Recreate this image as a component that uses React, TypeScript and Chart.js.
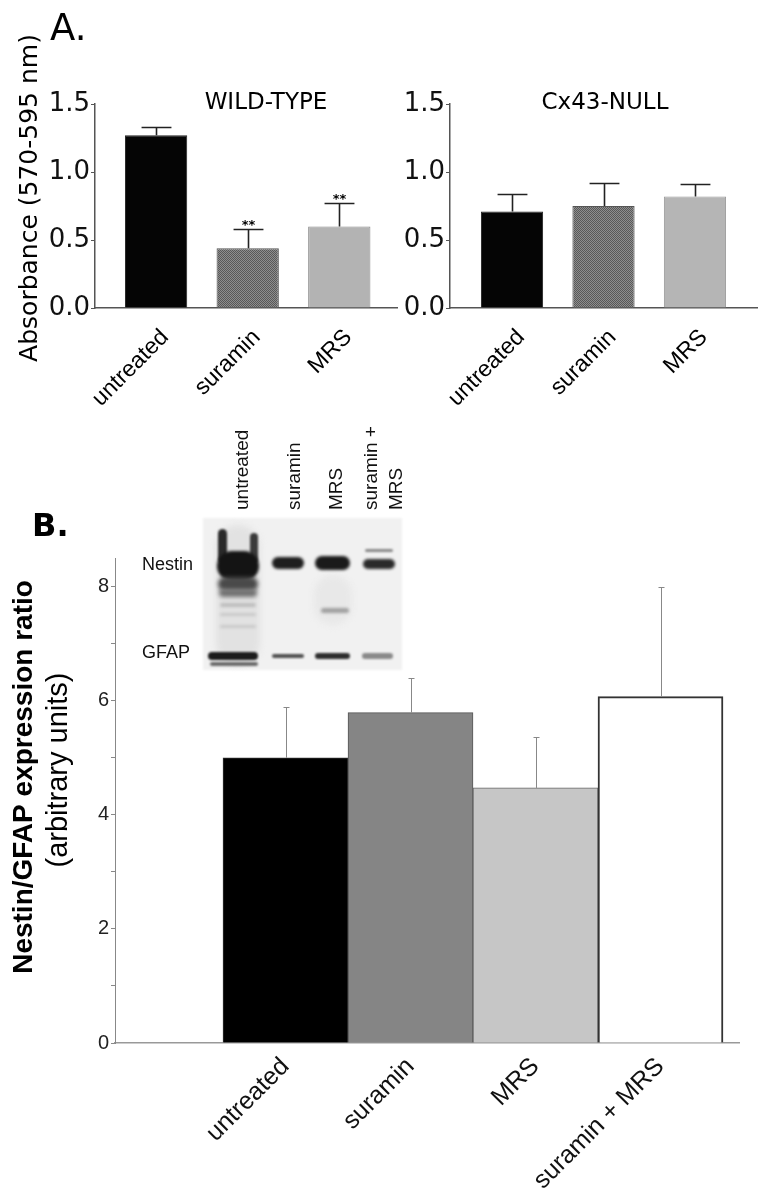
import React, { useEffect, useRef } from 'react';
import { Chart, registerables } from 'chart.js';

Chart.register(...registerables);

// ---------------- Panel A data ----------------
const categoriesA = ['untreated', 'suramin', 'MRS'];
const wildTypeMeans = [1.27, 0.44, 0.6];
const wildTypeErrors = [0.06, 0.14, 0.17];
const wildTypeMarks = ['', '**', '**'];
const cx43NullMeans = [0.71, 0.75, 0.82];
const cx43NullErrors = [0.13, 0.17, 0.09];
const cx43NullMarks = ['', '', ''];
const absorbanceRange = [0, 1.5];
const absorbanceStep = 0.25;

// ---------------- Panel B data ----------------
const categoriesB = ['untreated', 'suramin', 'MRS', 'suramin + MRS'];
const ratioMeans = [5.0, 5.79, 4.47, 6.07];
const ratioErrors = [0.89, 0.61, 0.9, 1.93];
const ratioRange = [0, 8.5];
const ratioStep = 1;
const blotLanes = ['untreated', 'suramin', 'MRS', 'suramin +\nMRS'];
const blotBands = ['Nestin', 'GFAP'];

type TextItem = {
  text: string;
  x: number;
  y: number;
  font: string;
  color?: string;
  align?: CanvasTextAlign;
  rotate?: boolean;
};

function textPlugin(items: TextItem[]) {
  return {
    id: 'extraText',
    afterDraw(chart: any) {
      const ctx = chart.ctx as CanvasRenderingContext2D;
      for (const t of items) {
        ctx.save();
        ctx.font = t.font;
        ctx.fillStyle = t.color || '#000';
        ctx.textAlign = t.align || 'left';
        ctx.textBaseline = 'alphabetic';
        ctx.translate(t.x, t.y);
        if (t.rotate) ctx.rotate(-Math.PI / 2);
        ctx.fillText(t.text, 0, 0);
        ctx.restore();
      }
    },
  };
}

function errorBarPlugin(
  means: number[],
  errors: number[],
  style: { color: string; width: number; capFrac?: number; capPx?: number },
  marks?: string[]
) {
  return {
    id: 'errorBars',
    afterDatasetsDraw(chart: any) {
      const ctx = chart.ctx as CanvasRenderingContext2D;
      const yScale = chart.scales.y;
      const meta = chart.getDatasetMeta(0);
      meta.data.forEach((el: any, i: number) => {
        const x = Math.round(el.x) + 0.5;
        const base = yScale.getPixelForValue(means[i]);
        const top = Math.round(yScale.getPixelForValue(means[i] + errors[i])) + 0.5;
        const half = style.capPx != null ? style.capPx / 2 : (el.width * (style.capFrac || 0.5)) / 2;
        ctx.save();
        ctx.strokeStyle = style.color;
        ctx.lineWidth = style.width;
        ctx.beginPath();
        ctx.moveTo(x, base);
        ctx.lineTo(x, top);
        ctx.moveTo(x - half, top);
        ctx.lineTo(x + half, top);
        ctx.stroke();
        if (marks && marks[i]) {
          ctx.fillStyle = '#000';
          ctx.font = 'bold 13px "DejaVu Sans"';
          ctx.textAlign = 'center';
          ctx.textBaseline = 'alphabetic';
          ctx.fillText(marks[i], x, top - 1);
        }
        ctx.restore();
      });
    },
  };
}

function dotPattern(base: string, dot: string): CanvasPattern | string {
  const c = document.createElement('canvas');
  c.width = 2;
  c.height = 2;
  const g = c.getContext('2d');
  if (!g) return base;
  g.fillStyle = base;
  g.fillRect(0, 0, 2, 2);
  g.fillStyle = dot;
  g.fillRect(0, 0, 1, 1);
  g.fillRect(1, 1, 1, 1);
  return g.createPattern(c, 'repeat') || base;
}

function panelAConfig(p: {
  means: number[];
  errors: number[];
  marks: string[];
  colors: any[];
  borders: string[];
  yWidth: number;
  padRight: number;
  xMin: number;
  xMax: number;
  texts: TextItem[];
}): any {
  return {
    type: 'bar',
    data: {
      datasets: [
        {
          data: p.means.map((v, i) => ({ x: i, y: v })),
          backgroundColor: p.colors,
          borderColor: p.borders,
          borderWidth: 1,
          barPercentage: 0.68,
          categoryPercentage: 1,
        },
      ],
    },
    options: {
      responsive: false,
      animation: false,
      devicePixelRatio: 1,
      layout: { padding: { top: 104, left: 0, right: p.padRight, bottom: 0 } },
      plugins: { legend: { display: false }, tooltip: { enabled: false }, title: { display: false } },
      scales: {
        x: {
          type: 'linear',
          min: p.xMin,
          max: p.xMax,
          offset: false,
          afterBuildTicks: (s: any) => {
            s.ticks = categoriesA.map((_, i) => ({ value: i }));
          },
          afterFit: (s: any) => {
            s.height = 112;
          },
          grid: { display: false, offset: false },
          border: { display: true, color: '#555', width: 1.5 },
          ticks: {
            autoSkip: false,
            minRotation: 45,
            maxRotation: 45,
            padding: 8,
            labelOffset: 9,
            color: '#000',
            font: { family: '"Liberation Sans", Arial', size: 23 },
            callback: (v: any) => categoriesA[Math.round(v)] ?? '',
          },
        },
        y: {
          min: absorbanceRange[0],
          max: absorbanceRange[1],
          afterFit: (s: any) => {
            s.width = p.yWidth;
          },
          grid: { drawOnChartArea: false, tickLength: 4, color: '#555', tickWidth: 1 },
          border: { display: true, color: '#555', width: 1.5 },
          ticks: {
            stepSize: absorbanceStep,
            includeBounds: false,
            padding: 1,
            color: '#111',
            font: { family: '"DejaVu Sans"', size: 26 },
            callback: (v: any) => {
              const n = Number(v);
              return Math.abs(n * 2 - Math.round(n * 2)) < 1e-6 ? n.toFixed(1) : '';
            },
          },
        },
      },
    },
    plugins: [
      errorBarPlugin(p.means, p.errors, { color: '#222', width: 1.6, capFrac: 0.48 }, p.marks),
      textPlugin(p.texts),
    ],
  };
}

function panelBConfig(texts: TextItem[]): any {
  return {
    type: 'bar',
    data: {
      datasets: [
        {
          data: ratioMeans.map((v, i) => ({ x: i, y: v })),
          backgroundColor: ['#000000', '#858585', '#c6c6c6', '#ffffff'],
          borderColor: ['#333333', '#555555', '#666666', '#333333'],
          borderWidth: [1, 1, 1, 2],
          barPercentage: 1,
          categoryPercentage: 1,
        },
      ],
    },
    options: {
      responsive: false,
      animation: false,
      devicePixelRatio: 1,
      layout: { padding: { top: 138, left: 0, right: 28, bottom: 0 } },
      plugins: { legend: { display: false }, tooltip: { enabled: false }, title: { display: false } },
      scales: {
        x: {
          type: 'linear',
          min: -1.364,
          max: 3.628,
          offset: false,
          afterBuildTicks: (s: any) => {
            s.ticks = categoriesB.map((_, i) => ({ value: i }));
          },
          afterFit: (s: any) => {
            s.height = 156;
          },
          grid: { display: false, offset: false },
          border: { display: true, color: '#999', width: 1.5 },
          ticks: {
            autoSkip: false,
            minRotation: 45,
            maxRotation: 45,
            padding: 1,
            color: '#111',
            font: { family: '"Liberation Sans", Arial', size: 25 },
            callback: (v: any) => categoriesB[Math.round(v)] ?? '',
          },
        },
        y: {
          min: ratioRange[0],
          max: ratioRange[1],
          afterFit: (s: any) => {
            s.width = 115;
          },
          grid: { drawOnChartArea: false, tickLength: 4, color: '#888', tickWidth: 1 },
          border: { display: true, color: '#888', width: 1 },
          ticks: {
            stepSize: ratioStep,
            includeBounds: false,
            padding: 2,
            color: '#222',
            font: { family: '"Liberation Sans", Arial', size: 20 },
            callback: (v: any) => (Number(v) % 2 === 0 ? String(v) : ''),
          },
        },
      },
    },
    plugins: [
      errorBarPlugin(ratioMeans, ratioErrors, { color: '#888', width: 1, capPx: 6 }),
      textPlugin(texts),
    ],
  };
}

function drawBlot(c: HTMLCanvasElement) {
  const g = c.getContext('2d');
  if (!g) return;
  g.clearRect(0, 0, c.width, c.height);
  g.save();
  g.filter = 'blur(1px)';
  g.fillStyle = '#f1f1f1';
  g.fillRect(3, 3, 199, 152);
  g.restore();
  const band = (x: number, y: number, w: number, h: number, color: string, blur: number) => {
    g.save();
    g.filter = `blur(${blur}px)`;
    g.fillStyle = color;
    g.beginPath();
    const r = Math.min(h / 2, w / 2);
    if ((g as any).roundRect) (g as any).roundRect(x, y, w, h, r);
    else g.rect(x, y, w, h);
    g.fill();
    g.restore();
  };
  // lane haze
  band(16, 10, 44, 140, '#e2e2e2', 3);
  band(114, 60, 38, 50, '#e8e8e8', 3);
  // untreated nestin smear
  band(18, 14, 9, 34, '#2a2a2a', 1.2);
  band(50, 18, 8, 30, '#3a3a3a', 1.2);
  band(17, 36, 42, 30, '#141414', 1.5);
  band(18, 62, 40, 14, '#4a4a4a', 2);
  band(19, 74, 38, 8, '#707070', 2);
  band(20, 88, 36, 4, '#bdbdbd', 1.5);
  band(20, 98, 36, 3, '#c8c8c8', 1.5);
  band(20, 110, 36, 3, '#c8c8c8', 1.5);
  // other nestin bands
  band(72, 42, 32, 12, '#1e1e1e', 1.5);
  band(115, 41, 35, 14, '#1a1a1a', 1.5);
  band(163, 44, 32, 10, '#2a2a2a', 1.5);
  band(165, 34, 28, 3, '#8a8a8a', 1);
  band(121, 93, 28, 5, '#a0a0a0', 1.5);
  // GFAP bands
  band(8, 137, 50, 8, '#1c1c1c', 1.2);
  band(10, 147, 48, 4, '#6a6a6a', 1.2);
  band(72, 139, 32, 4, '#505050', 1);
  band(115, 138, 35, 6, '#2e2e2e', 1.2);
  band(162, 138, 31, 6, '#8a8a8a', 1.2);
}

export default function App() {
  const aLeftRef = useRef<HTMLCanvasElement>(null);
  const aRightRef = useRef<HTMLCanvasElement>(null);
  const bRef = useRef<HTMLCanvasElement>(null);
  const blotRef = useRef<HTMLCanvasElement>(null);

  useEffect(() => {
    document.body.style.margin = '0';
    document.documentElement.style.overflow = 'hidden';
    const suraminFill = dotPattern('#8e8e8e', '#585858');
    const charts: Chart[] = [];

    if (aLeftRef.current) {
      charts.push(
        new Chart(
          aLeftRef.current,
          panelAConfig({
            means: wildTypeMeans,
            errors: wildTypeErrors,
            marks: wildTypeMarks,
            colors: ['#050505', suraminFill, '#b3b3b3'],
            borders: ['#222222', '#555555', '#888888'],
            yWidth: 95,
            padRight: 3,
            xMin: -0.667,
            xMax: 2.63,
            texts: [
              { text: 'A.', x: 50, y: 40, font: '37px "DejaVu Sans"' },
              { text: 'WILD-TYPE', x: 266, y: 109, font: '23px "DejaVu Sans"', align: 'center' },
              {
                text: 'Absorbance (570-595 nm)',
                x: 37,
                y: 198,
                font: '25px "DejaVu Sans"',
                align: 'center',
                rotate: true,
              },
            ],
          })
        )
      );
    }
    if (aRightRef.current) {
      charts.push(
        new Chart(
          aRightRef.current,
          panelAConfig({
            means: cx43NullMeans,
            errors: cx43NullErrors,
            marks: cx43NullMarks,
            colors: ['#050505', suraminFill, '#b5b5b5'],
            borders: ['#222222', '#555555', '#999999'],
            yWidth: 50,
            padRight: 10,
            xMin: -0.678,
            xMax: 2.678,
            texts: [{ text: 'Cx43-NULL', x: 205, y: 109, font: '23px "DejaVu Sans"', align: 'center' }],
          })
        )
      );
    }
    if (bRef.current) {
      const laneFont = '19px "Liberation Sans", Arial';
      const laneX = [248, 300, 342, 377];
      const laneTexts: TextItem[] = [];
      blotLanes.forEach((lane, i) => {
        const lines = lane.split('\n');
        lines.forEach((line, j) => {
          laneTexts.push({ text: line, x: laneX[i] + j * 25, y: 90, font: laneFont, rotate: true, color: '#111' });
        });
      });
      charts.push(
        new Chart(
          bRef.current,
          panelBConfig([
            { text: 'B.', x: 32, y: 116, font: 'bold 32px "DejaVu Sans"' },
            {
              text: 'Nestin/GFAP expression ratio',
              x: 32,
              y: 357,
              font: 'bold 28px "Liberation Sans", Arial',
              align: 'center',
              rotate: true,
            },
            {
              text: '(arbitrary units)',
              x: 67,
              y: 350,
              font: '29px "Liberation Sans", Arial',
              align: 'center',
              rotate: true,
            },
            { text: blotBands[0], x: 142, y: 150, font: '18px "Liberation Sans", Arial', color: '#111' },
            { text: blotBands[1], x: 142, y: 238, font: '18px "Liberation Sans", Arial', color: '#111' },
            ...laneTexts,
          ])
        )
      );
    }
    if (blotRef.current) drawBlot(blotRef.current);

    return () => {
      charts.forEach((c) => c.destroy());
    };
  }, []);

  return (
    <div style={{ position: 'relative', width: 767, height: 1199, overflow: 'hidden', background: '#fff' }}>
      <canvas ref={aLeftRef} width={400} height={420} style={{ position: 'absolute', left: 0, top: 0 }} />
      <canvas ref={aRightRef} width={367} height={420} style={{ position: 'absolute', left: 400, top: 0 }} />
      <canvas ref={bRef} width={767} height={779} style={{ position: 'absolute', left: 0, top: 420 }} />
      <canvas ref={blotRef} width={205} height={160} style={{ position: 'absolute', left: 200, top: 515 }} />
    </div>
  );
}
